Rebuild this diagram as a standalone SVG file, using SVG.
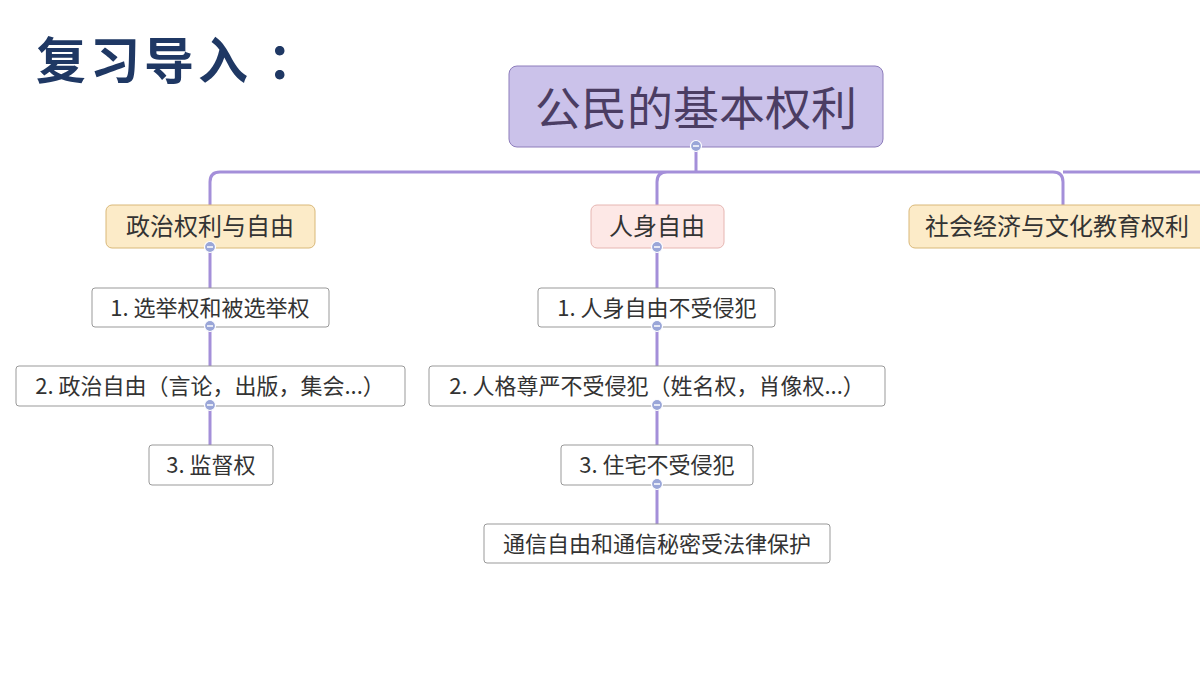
<svg xmlns="http://www.w3.org/2000/svg" width="1200" height="675" viewBox="0 0 1200 675">
<style>
text{font-family:"Noto Sans CJK SC","Noto Sans",sans-serif;text-anchor:middle;fill:#333}
.c{fill:#fff;stroke:#999;stroke-width:1}
.ct{font-size:22px}
.l{fill:none;stroke:#a48fd9;stroke-width:3}
.d{fill:#9aa6d8;stroke:#fff;stroke-width:1.2}
.m{stroke:#fff;stroke-width:1.5}
</style>
<defs>
<g id="dot"><circle class="d" r="5.5"/><line class="m" x1="-3" y1="0" x2="3" y2="0"/></g>
</defs>
<rect width="1200" height="675" fill="#fff"/>
<text x="36" y="79" style="font-size:50px;font-weight:bold;fill:#1f3864;text-anchor:start;letter-spacing:4px">复习导入 ：</text>
<g id="connectors">
<path class="l" d="M696 147V172M210 205V182Q210 172 220 172H1053Q1063 172 1063 182V205M657 205V182Q657 172 667 172"/>
<path class="l" d="M1063 172H1200"/>
<path class="l" d="M210 248V288M210 327V366M210 406V445"/>
<path class="l" d="M657 248V288M657 327V366M657 406V445M657 485V524"/>
</g>
<g id="root"><rect x="509" y="66" width="374" height="81" rx="8" fill="#cbc2ea" stroke="#8d7dbb"/><text x="696" y="125" style="font-size:46px;fill:#4b3d63">公民的基本权利</text></g>
<g id="n1"><rect x="106" y="205" width="209" height="43" rx="6" fill="#fcebc8" stroke="#d9b878"/><text x="210" y="235" style="font-size:24px">政治权利与自由</text></g>
<g id="n2"><rect x="591" y="205" width="133" height="43" rx="6" fill="#fde8e6" stroke="#e6b6b2"/><text x="657" y="235" style="font-size:24px">人身自由</text></g>
<g id="n3"><rect x="909" y="205" width="300" height="43" rx="6" fill="#fcebc8" stroke="#d9b878"/><text x="925" y="235" style="font-size:24px;text-anchor:start">社会经济与文化教育权利</text></g>
<g id="a1"><rect class="c" x="92" y="288" width="237" height="39" rx="3"/><text class="ct" x="210" y="316">1. 选举权和被选举权</text></g>
<g id="a2"><rect class="c" x="16" y="366" width="389" height="40" rx="3"/><text class="ct" x="210" y="394">2. 政治自由（言论，出版，集会...）</text></g>
<g id="a3"><rect class="c" x="149" y="445" width="124" height="40" rx="3"/><text class="ct" x="211" y="473">3. 监督权</text></g>
<g id="b1"><rect class="c" x="538" y="288" width="237" height="39" rx="3"/><text class="ct" x="657" y="316">1. 人身自由不受侵犯</text></g>
<g id="b2"><rect class="c" x="429" y="366" width="456" height="40" rx="3"/><text class="ct" x="657" y="394">2. 人格尊严不受侵犯（姓名权，肖像权...）</text></g>
<g id="b3"><rect class="c" x="561" y="445" width="192" height="40" rx="3"/><text class="ct" x="657" y="473">3. 住宅不受侵犯</text></g>
<g id="b4"><rect class="c" x="484" y="524" width="346" height="39" rx="3"/><text class="ct" x="657" y="552">通信自由和通信秘密受法律保护</text></g>
<g id="dots">
<use href="#dot" x="696" y="146"/><use href="#dot" x="210" y="247"/><use href="#dot" x="657" y="247"/>
<use href="#dot" x="210" y="326"/><use href="#dot" x="210" y="405"/>
<use href="#dot" x="657" y="326"/><use href="#dot" x="657" y="405"/><use href="#dot" x="657" y="484"/>
</g>
</svg>
